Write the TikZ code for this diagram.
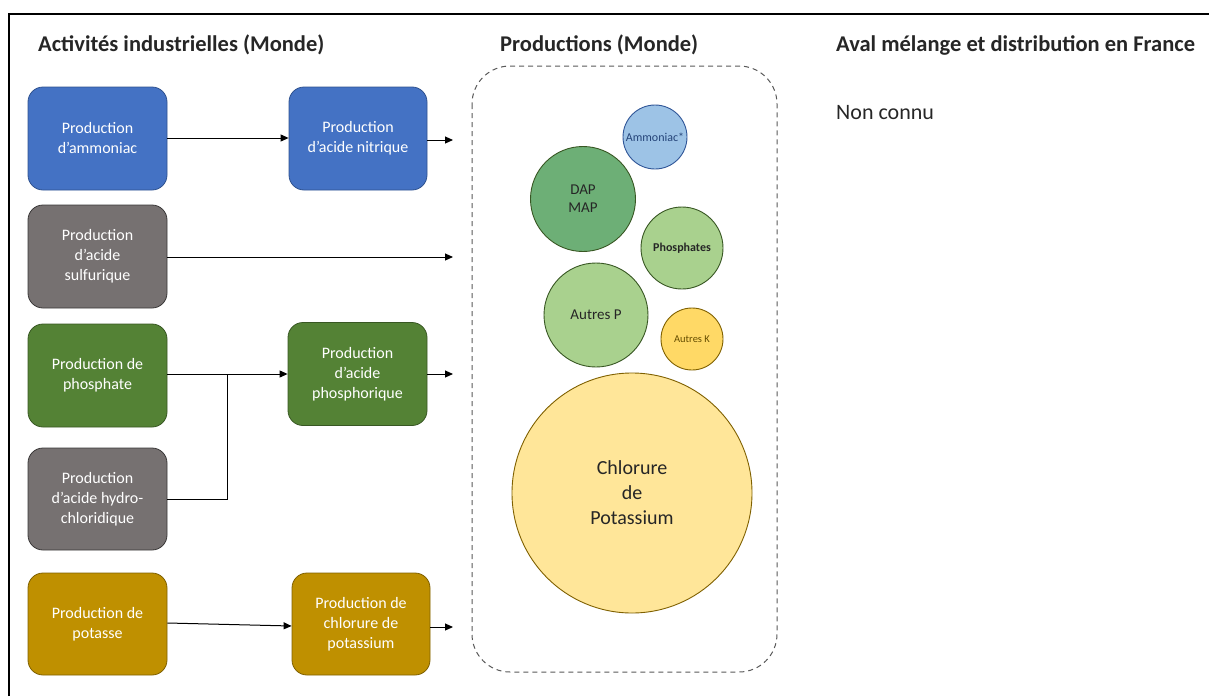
\documentclass[tikz,border=0pt]{standalone}
\usepackage{fontspec}
\setmainfont{Carlito}
\usetikzlibrary{arrows.meta}
\definecolor{cblue}{HTML}{4472C4}\definecolor{cblueb}{HTML}{2F528F}
\definecolor{cgray}{HTML}{767171}\definecolor{cgrayb}{HTML}{3A3838}
\definecolor{cgreen}{HTML}{548235}\definecolor{cgreenb}{HTML}{385723}
\definecolor{cgold}{HTML}{BF9000}\definecolor{cgoldb}{HTML}{7F6000}
\definecolor{lblue}{HTML}{9DC3E6}\definecolor{dblue}{HTML}{2F5597}
\definecolor{mgreen}{HTML}{6DAF76}\definecolor{lgreen}{HTML}{A9D18E}
\definecolor{lyel}{HTML}{FFD966}\definecolor{pyel}{HTML}{FFE699}
\definecolor{txt}{HTML}{262626}
\tikzset{
  procbox/.style={rectangle, rounded corners=15pt, minimum width=139pt, minimum height=103pt,
    line width=0.8pt, text=white, align=center, font=\fontsize{16}{20}\selectfont, inner sep=2pt},
  bubble/.style={circle, line width=0.9pt, align=center, inner sep=0pt, text=txt},
  flow/.style={line width=1pt, -{Triangle[length=8pt,width=7pt]}},
  plain/.style={line width=1pt},
  header/.style={anchor=west, font=\fontsize{22.5}{26}\selectfont\bfseries, text=txt, inner sep=0pt}
}
\begin{document}
\begin{tikzpicture}[x=1pt,y=-1pt]
\useasboundingbox (0,0) rectangle (1209,696);
% frame
\coordinate (fbl) at (9,696);
\coordinate (ftl) at (9,14);
\coordinate (ftr) at (1209,14);
\draw[line width=1.6pt, black] (fbl) -- (ftl) -- (ftr);
% headers
\node[header] (h1) at (38,45) {Activités industrielles (Monde)};
\node[header] (h2) at (500,45) {Productions (Monde)};
\node[header] (h3) at (836,45) {Aval mélange et distribution en France};
\node[anchor=west, inner sep=0pt, font=\fontsize{22}{26}\selectfont, text=txt] (nc) at (836,113) {Non connu};
% container
\draw[dashed, dash pattern=on 5pt off 4pt, line width=1pt, color=black!65, rounded corners=38pt] (472,66) rectangle (777,672);
% boxes
\node[procbox, fill=cblue, draw=cblueb] (a1) at (97.5,138.5) {Production\\d’ammoniac};
\node[procbox, fill=cblue, draw=cblueb, minimum width=138pt] (a2) at (358,138.5) {Production\\d’acide nitrique};
\node[procbox, fill=cgray, draw=cgrayb] (b) at (97.5,256.5) {Production\\d’acide\\sulfurique};
\node[procbox, fill=cgreen, draw=cgreenb] (c1) at (97.5,375.5) {Production de\\phosphate};
\node[procbox, fill=cgreen, draw=cgreenb] (c2) at (357.5,374) {Production\\d’acide\\phosphorique};
\node[procbox, fill=cgray, draw=cgrayb, minimum height=102pt] (d) at (97.5,499) {Production\\d’acide hydro-\\chloridique};
\node[procbox, fill=cgold, draw=cgoldb, minimum height=102pt] (e1) at (97.5,624) {Production de\\potasse};
\node[procbox, fill=cgold, draw=cgoldb, minimum width=138pt, minimum height=102pt] (e2) at (361,624) {Production de\\chlorure de\\potassium};
% free ends at container
\coordinate (ta) at (453,140);
\coordinate (tb) at (453,257);
\coordinate (tc) at (453,374);
\coordinate (te) at (453,627);
\coordinate (junc) at (227,374);
% connectors
\draw[flow] (a1.east |- 0,138) -- (a2.west |- 0,138);
\draw[flow] (a2.east |- ta) -- (ta);
\draw[flow] (b.east |- tb) -- (tb);
\draw[flow] (c1.east |- junc) -- (c2.west |- junc);
\draw[plain] (d.east) -- (junc |- d.east) -- (junc);
\draw[flow] (c2.east |- tc) -- (tc);
\draw[flow] (e1.east |- 0,623) -- (e2.west |- 0,626);
\draw[flow] (e2.east |- te) -- (te);
% bubbles
\node[bubble, fill=lblue, draw=dblue, minimum size=64pt, text=dblue!80!black, font=\fontsize{12}{14}\selectfont] (amm) at (655,137) {Ammoniac*};
\node[bubble, fill=mgreen, draw=cgreenb, minimum size=105pt, font=\fontsize{15}{18}\selectfont] (dap) at (583,199) {DAP\\MAP};
\node[bubble, fill=lgreen, draw=cgreenb, minimum size=82pt, font=\fontsize{12}{14}\selectfont\bfseries] (pho) at (682,248) {Phosphates};
\node[bubble, fill=lgreen, draw=cgreenb, minimum size=104pt, font=\fontsize{15}{18}\selectfont] (aup) at (596,315) {Autres P};
\node[bubble, fill=lyel, draw=cgoldb, minimum size=62pt, text=cgoldb!80!black, font=\fontsize{10.5}{12}\selectfont] (auk) at (692,339) {Autres K};
\node[bubble, fill=pyel, draw=cgoldb, minimum size=240pt, font=\fontsize{20}{25}\selectfont] (kcl) at (632,493) {Chlorure\\de\\Potassium};
\end{tikzpicture}
\end{document}
